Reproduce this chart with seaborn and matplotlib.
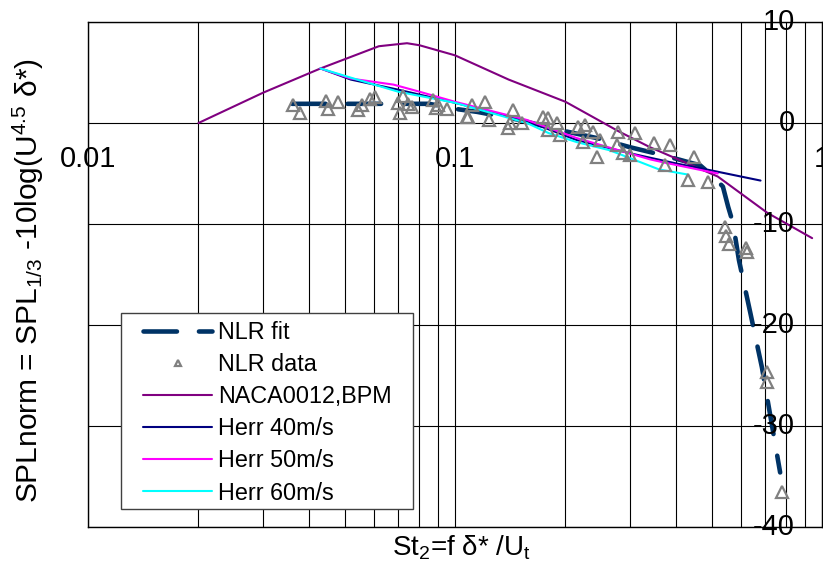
import numpy as np
import matplotlib
matplotlib.use("Agg")
import matplotlib.pyplot as plt
from matplotlib.patches import Rectangle
from matplotlib.ticker import LogLocator, MultipleLocator, NullFormatter
import seaborn as sns

# NLR fitted spectrum
fit_st = [0.036, 0.085, 0.1, 0.115, 0.15, 0.193, 0.244, 0.3, 0.37, 0.466,
          0.505, 0.537, 0.555, 0.572, 0.594, 0.637, 0.686, 0.769]
fit_spl = [1.9, 1.9, 1.4, 1.1, 0.3, -0.7, -1.5, -2.4, -3.2, -4.2,
           -5.3, -6.3, -8.3, -9.9, -13.6, -18.7, -24.2, -34.6]

# NLR measured points
data_st = [0.0362, 0.0378, 0.0445, 0.0451, 0.0480, 0.0544, 0.0558, 0.0587, 0.0605,
           0.0699, 0.0708, 0.0722, 0.0745, 0.0764, 0.0871, 0.0888, 0.0899, 0.0951,
           0.1078, 0.1085, 0.1113, 0.1207, 0.1238, 0.1395, 0.1412, 0.1439, 0.1523,
           0.1737, 0.1792, 0.1792, 0.1897, 0.1933, 0.2163, 0.2261, 0.2233, 0.2377,
           0.2484, 0.2437, 0.2780, 0.2763, 0.2870, 0.2999, 0.3095, 0.3485, 0.3853,
           0.3735, 0.4479, 0.4314, 0.4893, 0.5442, 0.5476, 0.5580, 0.6209, 0.6248,
           0.7081, 0.7081, 0.7780]
data_spl = [1.8, 1.0, 2.2, 1.4, 2.1, 1.3, 1.8, 2.4, 2.6,
            2.0, 1.0, 2.7, 1.9, 1.6, 2.3, 1.5, 1.8, 1.4,
            0.6, 0.6, 1.8, 2.1, 0.3, -0.5, 0.0, 1.3, 0.0,
            0.6, 0.5, -0.7, 0.0, -1.2, -0.4, -0.2, -1.9, -0.9,
            -1.7, -3.4, -0.9, -2.2, -3.0, -3.2, -1.0, -2.0, -2.2,
            -4.2, -3.4, -5.6, -5.8, -10.3, -11.2, -12.0, -12.4, -12.8,
            -24.7, -25.6, -36.5]

# BPM prediction for NACA0012
bpm_st = [0.02, 0.03, 0.043, 0.062, 0.074, 0.08, 0.1, 0.14, 0.2, 0.28, 0.34,
          0.52, 0.71, 0.94]
bpm_spl = [0.0, 3.0, 5.4, 7.6, 7.9, 7.7, 6.7, 4.3, 2.1, -0.85, -2.4,
           -5.3, -8.9, -11.4]

# Herr measurements at three flow speeds
herr40_st = [0.043, 0.052, 0.07, 0.1, 0.157, 0.215, 0.3, 0.4, 0.5, 0.68]
herr40_spl = [5.4, 4.3, 3.3, 2.0, 0.2, -1.7, -3.0, -4.0, -4.7, -5.7]
herr50_st = [0.043, 0.052, 0.068, 0.08, 0.1, 0.157, 0.215, 0.34, 0.37, 0.52]
herr50_spl = [5.4, 4.4, 3.8, 3.1, 2.1, 0.3, -1.5, -3.6, -3.9, -5.0]
herr60_st = [0.043, 0.053, 0.07, 0.1, 0.157, 0.18, 0.215, 0.264, 0.36, 0.43]
herr60_spl = [5.4, 4.4, 3.1, 2.0, 0.0, -1.0, -1.9, -2.7, -4.6, -5.1]

x_ticks = [0.01, 0.1, 1.0]
x_tick_labels = ["0.01", "0.1", "1"]
y_ticks = [10, 0, -10, -20, -30, -40]

sns.set_theme(style="white")
plt.rcParams["font.family"] = ["Liberation Sans", "DejaVu Sans"]
plt.rcParams["mathtext.fontset"] = "custom"
plt.rcParams["mathtext.rm"] = "Liberation Sans"
plt.rcParams["mathtext.it"] = "Liberation Sans"
plt.rcParams["mathtext.default"] = "regular"

W, H = 823, 568
fig = plt.figure(figsize=(W / 100, H / 100), dpi=100)
ax = fig.add_axes([88 / W, 1 - 527 / H, (822 - 88) / W, (527 - 22) / H])
ax.set_xscale("log")
ax.set_xlim(0.01, 1.0)
ax.set_ylim(-40, 10)

ax.xaxis.set_major_locator(LogLocator(base=10))
ax.xaxis.set_minor_locator(LogLocator(base=10, subs=np.arange(2, 10)))
ax.xaxis.set_minor_formatter(NullFormatter())
ax.yaxis.set_major_locator(MultipleLocator(10))
ax.grid(True, which="both", color="black", lw=0.8)
ax.set_axisbelow(True)
ax.tick_params(which="both", length=0, labelbottom=False, labelleft=False)
for s in ax.spines.values():
    s.set_color("black")
    s.set_linewidth(1.0)

sns.lineplot(x=fit_st, y=fit_spl, ax=ax, color="#003366", lw=3.3,
             linestyle=(0, (7.3, 4.8)), dash_capstyle="round",
             sort=False, estimator=None, label="NLR fit", zorder=3)
sns.lineplot(x=bpm_st, y=bpm_spl, ax=ax, color="#800080", lw=1.5,
             sort=False, estimator=None, label="NACA0012,BPM", zorder=3)
sns.lineplot(x=herr40_st, y=herr40_spl, ax=ax, color="#000080", lw=1.5,
             sort=False, estimator=None, label="Herr 40m/s", zorder=3)
sns.lineplot(x=herr50_st, y=herr50_spl, ax=ax, color="#FF00FF", lw=1.5,
             sort=False, estimator=None, label="Herr 50m/s", zorder=3)
sns.lineplot(x=herr60_st, y=herr60_spl, ax=ax, color="#00FFFF", lw=1.5,
             sort=False, estimator=None, label="Herr 60m/s", zorder=3)
sns.lineplot(x=data_st, y=data_spl, ax=ax, color="#808080", linestyle="none",
             marker="^", ms=8, mfc="none", mec="#808080", mew=1.6,
             sort=False, estimator=None, label="NLR data", zorder=4)

# tick labels sit next to the zero line and inside the right edge
for xv, lab in zip(x_ticks, x_tick_labels):
    ax.text(xv, -3.6, lab, ha="center", va="center", fontsize=21,
            color="black", clip_on=False)
ytrans = ax.get_yaxis_transform()
for yv in y_ticks:
    ax.text(0.963, yv, f"{yv:d}", transform=ytrans, ha="right", va="center",
            fontsize=21, color="black", clip_on=False)

fig.text(461 / W, 1 - 548 / H, "St$_2$=f δ* /U$_t$", ha="center", va="center",
         fontsize=20, color="black")
fig.text(28 / W, 1 - 281 / H, "SPLnorm = SPL$_{1/3}$ -10log(U$^{4.5}$ δ*)",
         ha="center", va="center", rotation=90, fontsize=21.5, color="black")

handles, labels = ax.get_legend_handles_labels()
order = ["NLR fit", "NLR data", "NACA0012,BPM", "Herr 40m/s", "Herr 50m/s", "Herr 60m/s"]
hmap = dict(zip(labels, handles))
leg = ax.legend([hmap[k] for k in order], order, loc="upper left",
                bbox_to_anchor=(136 / W, 1 - 314 / H), bbox_transform=fig.transFigure,
                frameon=False, fontsize=16.8, handlelength=2.96, handletextpad=0.26,
                labelspacing=0.39, borderpad=0.3, borderaxespad=0, markerscale=0.6,
                labelcolor="black")
leg.set_zorder(6)
frame = Rectangle((121 / W, 1 - 509 / H), (413 - 121) / W, (509 - 313) / H,
                  transform=fig.transFigure, facecolor="white", edgecolor="#404040",
                  lw=1.0, zorder=5.5, clip_on=False)
ax.add_patch(frame)

fig.savefig("out.png", dpi=100)
